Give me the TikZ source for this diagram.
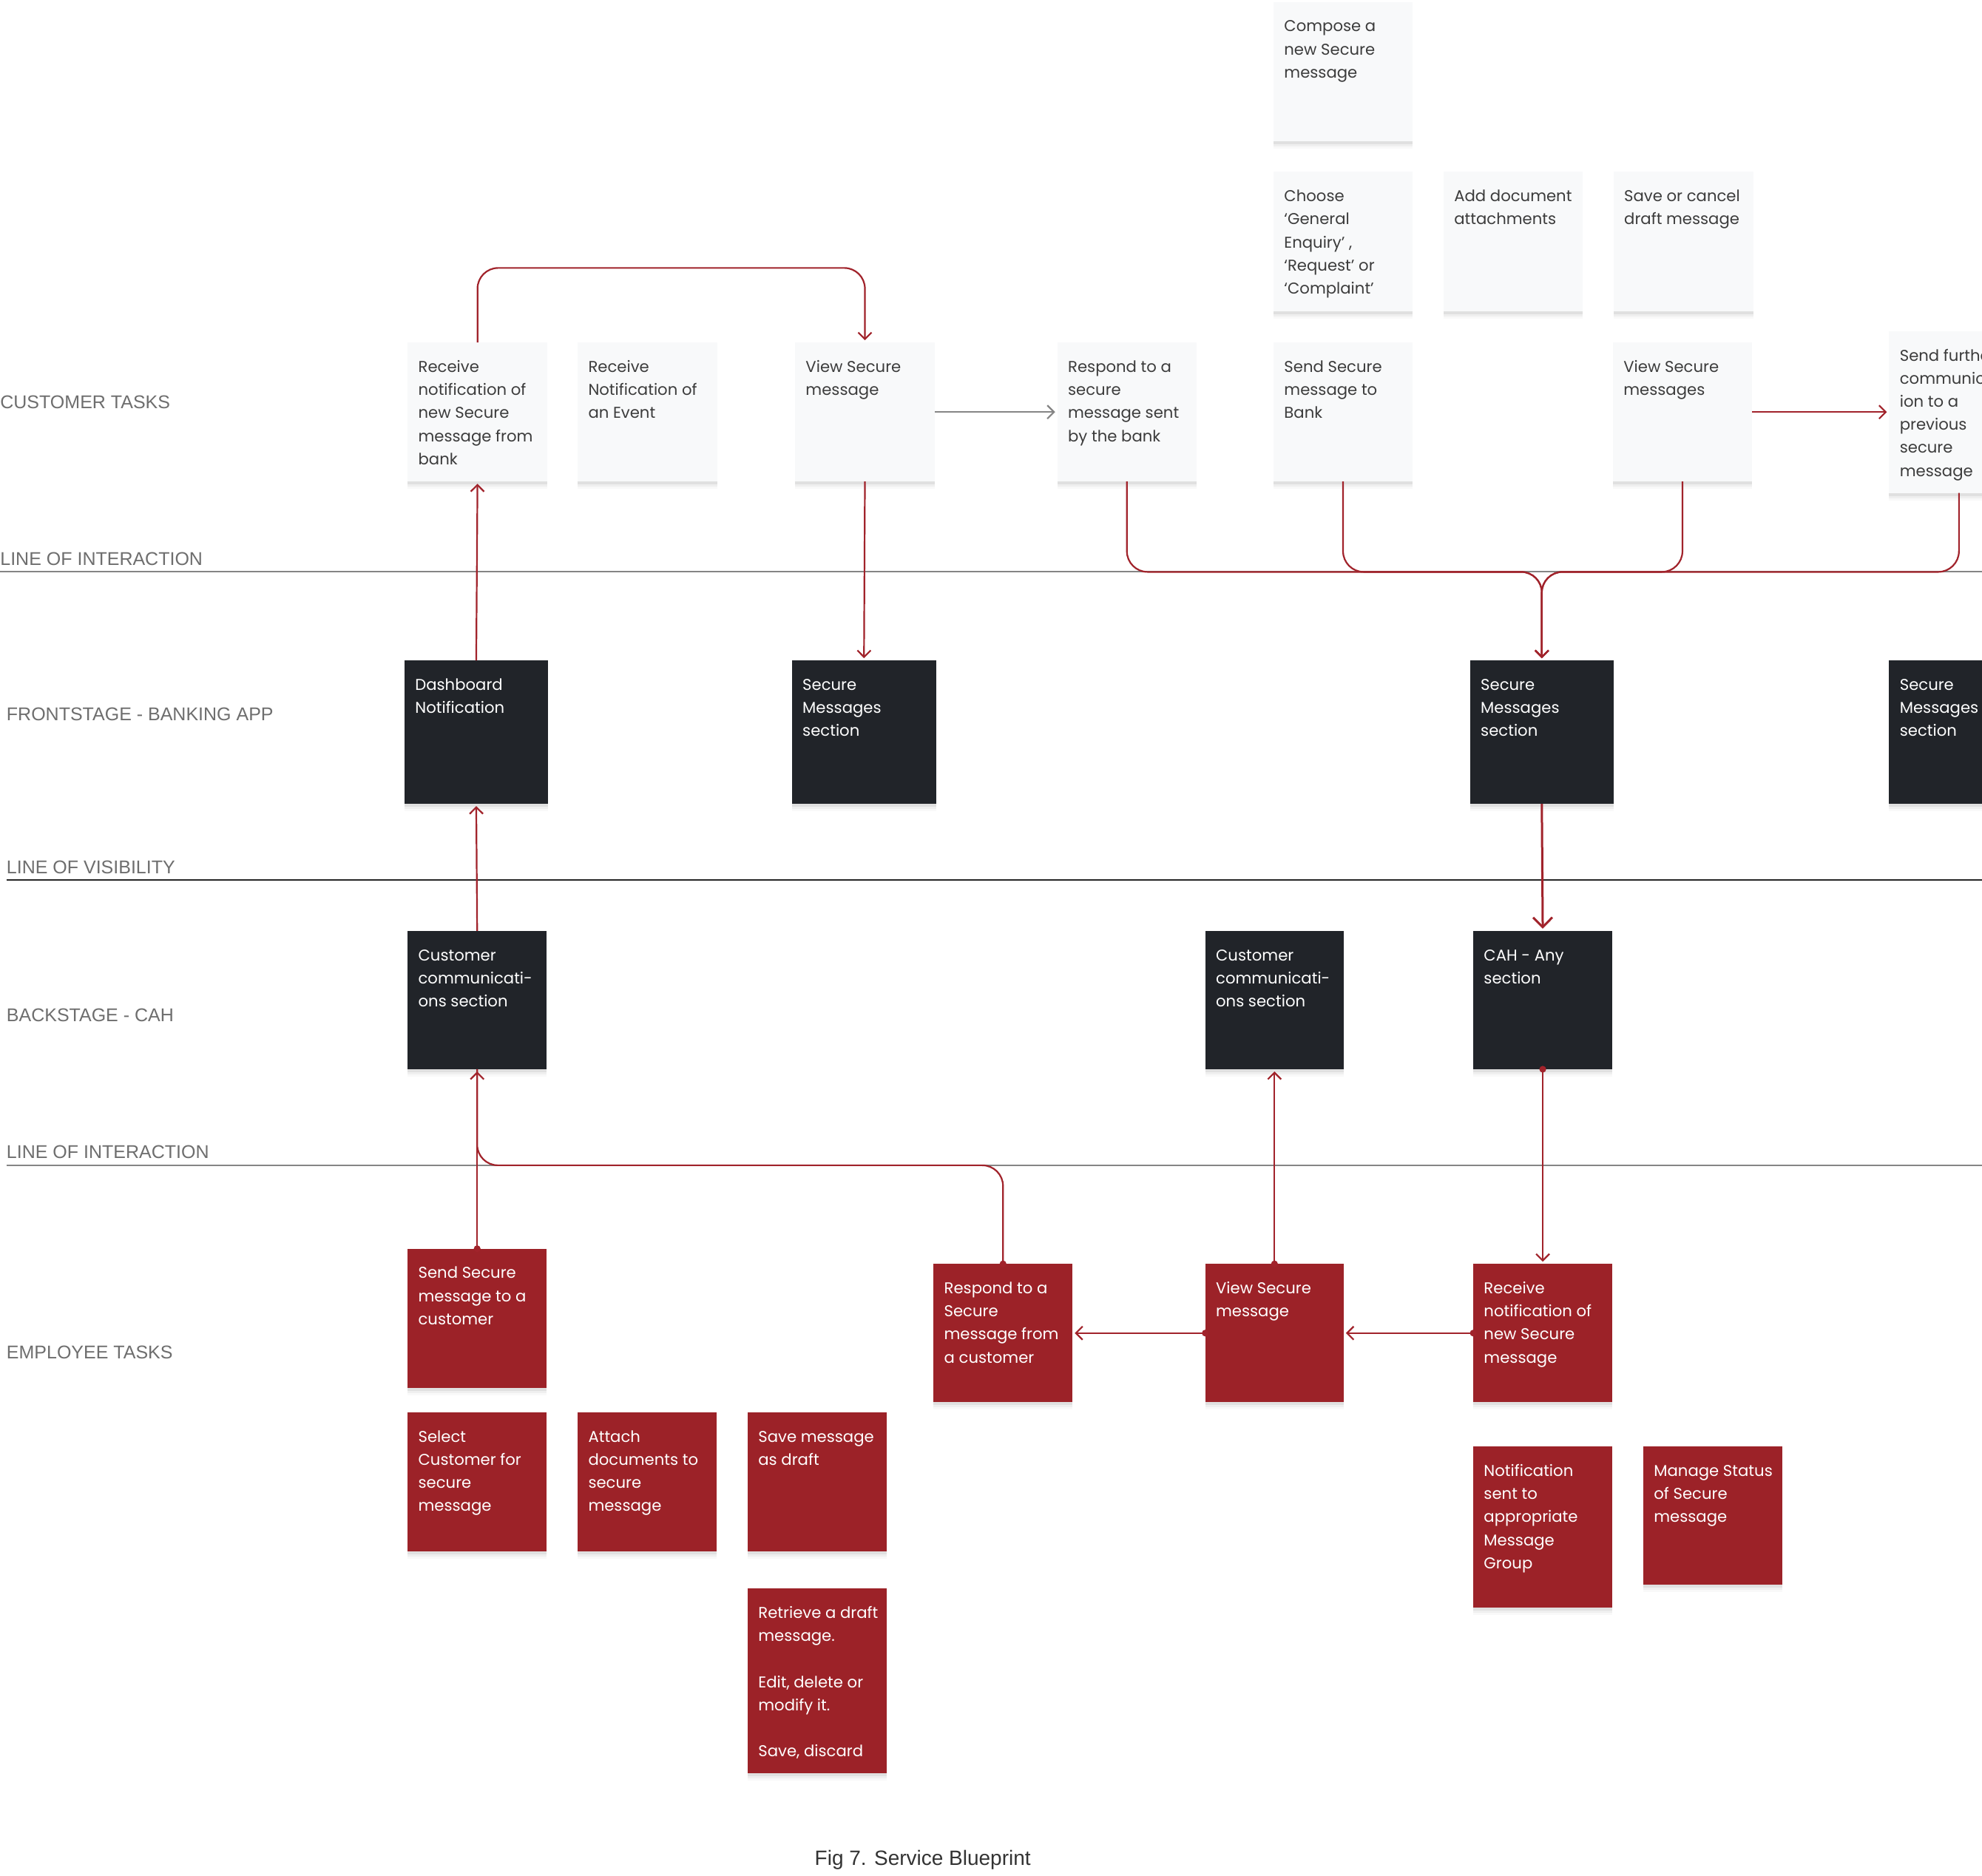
\documentclass[tikz,border=0pt]{standalone}
\usepackage{fontspec}
\setmainfont{Poppins}
\newfontfamily\lanefont{Liberation Sans}
\usetikzlibrary{arrows.meta,shadows}
\definecolor{cred}{HTML}{9C2228}
\definecolor{cline}{HTML}{A1232B}
\definecolor{cdark}{HTML}{212429}
\definecolor{clight}{HTML}{F8F9FA}
\definecolor{ctext}{HTML}{3C3C3C}
\definecolor{clane}{HTML}{6E6E6E}
\definecolor{cgray}{HTML}{858585}
\newcommand\bx[7]{%
  \pgfmathsetmacro\bw{(#5-#3)*0.8546}%
  \pgfmathsetmacro\bh{(#6-#4)*0.8546}%
  \node[#2, anchor=north west, minimum width=\bw pt, minimum height=\bh pt] (#1) at (#3,#4) {};
  \node[#2txt] (#1t) at ([xshift=7pt,yshift=-9pt]#1.north west) {\strut #7};
}
\begin{document}
\begin{tikzpicture}[x=0.8546pt,y=-0.8546pt,
  boxbase/.style={rectangle, inner sep=0pt, outer sep=0pt,
    general shadow={shadow xshift=0pt,shadow yshift=-5pt,opacity=0.025,fill=black},
    general shadow={shadow xshift=0pt,shadow yshift=-3.5pt,opacity=0.04,fill=black},
    general shadow={shadow xshift=0pt,shadow yshift=-2pt,opacity=0.06,fill=black}},
  lbox/.style={boxbase, fill=clight},
  dbox/.style={boxbase, fill=cdark},
  rbox/.style={boxbase, fill=cred},
  boxtxt/.style={inner sep=0pt, anchor=north west, align=left, font=\fontsize{10.6}{15.6}\selectfont},
  lboxtxt/.style={boxtxt, text=ctext},
  dboxtxt/.style={boxtxt, text=white},
  rboxtxt/.style={boxtxt, text=white},
  lane/.style={anchor=base west, inner sep=0pt, text=clane, font=\lanefont\fontsize{12.5}{15}\selectfont},
  conn/.style={draw=cline, line width=1.1pt, rounded corners=14pt},
  arr/.style={-{Straight Barb[length=4.5pt,width=9pt]}, shorten >=1.5pt},
  bigarr/.style={-{Straight Barb[length=6.5pt,width=13pt]}, shorten >=1.5pt, line width=1.5pt},
  dot/.style={fill=cline}
]
\useasboundingbox (0,0) rectangle (1568,1484);
\fill[white] (0,0) rectangle (1568,1484);
\clip (0,0) rectangle (1568,1484);

% lane separators
\draw[cgray, line width=1pt] (0,452) -- (1568,452);
\draw[black!85, line width=1pt] (5,696) -- (1568,696);
\draw[cgray, line width=1pt] (5,922) -- (1568,922);

% lane labels
\node[lane] (lbl1) at (0,323) {CUSTOMER TASKS};
\node[lane] (lbl2) at (0,447) {LINE OF INTERACTION};
\node[lane] (lbl3) at (5,570) {FRONTSTAGE - BANKING APP};
\node[lane] (lbl4) at (5,691) {LINE OF VISIBILITY};
\node[lane] (lbl5) at (5,808) {BACKSTAGE - CAH};
\node[lane] (lbl6) at (5,916.5) {LINE OF INTERACTION};
\node[lane] (lbl7) at (5,1075) {EMPLOYEE TASKS};
\node[anchor=base, inner sep=0pt, text=black!80, font=\lanefont\fontsize{14}{16}\selectfont] (cap) at (730,1476) {Fig 7. Service Blueprint};

% customer boxes
\bx{H}{lbox}{1007.5}{1.5}{1117.5}{112}{Compose a\\new Secure\\message}
\bx{I}{lbox}{1007.5}{136}{1117.5}{246.5}{Choose\\‘General\\Enquiry’ ,\\‘Request’ or\\‘Complaint’}
\bx{J}{lbox}{1142}{136}{1252}{246.5}{Add document\\attachments}
\bx{K}{lbox}{1276.5}{136}{1387}{246.5}{Save or cancel\\draft message}
\bx{A}{lbox}{322.5}{271}{433}{381}{Receive\\notification of\\new Secure\\message from\\bank}
\bx{B}{lbox}{457}{271}{567.5}{381}{Receive\\Notification of\\an Event}
\bx{C}{lbox}{629}{271}{739.5}{381}{View Secure\\message}
\bx{D}{lbox}{836.5}{271}{946.5}{381}{Respond to a\\secure\\message sent\\by the bank}
\bx{E}{lbox}{1007.5}{271}{1117.5}{381}{Send Secure\\message to\\Bank}
\bx{F}{lbox}{1276}{271}{1386}{381}{View Secure\\messages}
\bx{G}{lbox}{1494.5}{262}{1605}{390}{Send further\\communicat-\\ion to a\\previous\\secure\\message}

% frontstage
\bx{L}{dbox}{320}{522.5}{433.5}{636}{Dashboard\\Notification}
\bx{M}{dbox}{626.5}{522.5}{740.5}{636}{Secure\\Messages\\section}
\bx{N}{dbox}{1163}{522.5}{1276.5}{636}{Secure\\Messages\\section}
\bx{O}{dbox}{1494.5}{522.5}{1608}{636}{Secure\\Messages\\section}

% backstage
\bx{P}{dbox}{322.5}{736.5}{432.5}{846}{Customer\\communicati-\\ons section}
\bx{Q}{dbox}{953.5}{736.5}{1063}{846}{Customer\\communicati-\\ons section}
\bx{R}{dbox}{1165.5}{736.5}{1275.5}{846}{CAH - Any\\section}

% employee
\bx{S}{rbox}{322.5}{988}{432.5}{1098}{Send Secure\\message to a\\customer}
\bx{T}{rbox}{738.5}{1000}{848.5}{1109.5}{Respond to a\\Secure\\message from\\a customer}
\bx{U}{rbox}{953.5}{1000}{1063}{1109.5}{View Secure\\message}
\bx{V}{rbox}{1165.5}{1000}{1275.5}{1109.5}{Receive\\notification of\\new Secure\\message}
\bx{W}{rbox}{322.5}{1117.5}{432.5}{1227.5}{Select\\Customer for\\secure\\message}
\bx{X}{rbox}{457}{1117.5}{567}{1227.5}{Attach\\documents to\\secure\\message}
\bx{Y}{rbox}{591.5}{1117.5}{701.5}{1227.5}{Save message\\as draft}
\bx{Z}{rbox}{591.5}{1257}{701.5}{1403}{Retrieve a draft\\message.\\[15.6pt]Edit, delete or\\modify it.\\[15.6pt]Save, discard}
\bx{AA}{rbox}{1165.5}{1144.5}{1275.5}{1272}{Notification\\sent to\\appropriate\\Message\\Group}
\bx{AB}{rbox}{1300}{1144.5}{1410}{1254}{Manage Status\\of Secure\\message}

% connectors
\draw[conn,arr] (A.north) -- (A.north |- 0,212) -- (C.north |- 0,212) -- (C.north);
\draw[conn,arr] (L.north) -- (A.south);
\draw[conn,arr] (C.south) -- (M.north);
\draw[draw=cgray, line width=1.1pt, arr] (C.east) -- (D.west);
\draw[conn,arr] (F.east) -- (G.west);

\coordinate (mg) at (N.north |- 0,452.5);
\draw[conn,arr] (D.south) -- (D.south |- mg) -- (mg) -- (N.north);
\draw[conn,arr] (E.south) -- (E.south |- mg) -- (mg) -- (N.north);
\draw[conn,arr] (F.south) -- (F.south |- mg) -- (mg) -- (N.north);
\draw[conn,arr] (G.south) -- (G.south |- mg) -- (mg) -- (N.north);

\draw[conn,bigarr] (N.south) -- (R.north);
\draw[conn,arr] (R.south) -- (V.north);
\draw[conn,arr] (V.west) -- (U.east);
\draw[conn,arr] (U.west) -- (T.east);
\draw[conn,arr] (U.north) -- (Q.south);
\draw[conn,arr] (P.north) -- (L.south);
\draw[conn] (T.north) -- (T.north |- 0,922) -- (P.south |- 0,922) -- (P.south);
\draw[conn,arr] (S.north) -- (P.south);

% dots
\fill[dot] (R.south) circle (2.3pt);
\fill[dot] (V.west) circle (2.3pt);
\fill[dot] (U.west) circle (2.3pt);
\fill[dot] (U.north) circle (2.3pt);
\fill[dot] (T.north) circle (2.3pt);
\fill[dot] (S.north) circle (2.3pt);
\end{tikzpicture}
\end{document}
